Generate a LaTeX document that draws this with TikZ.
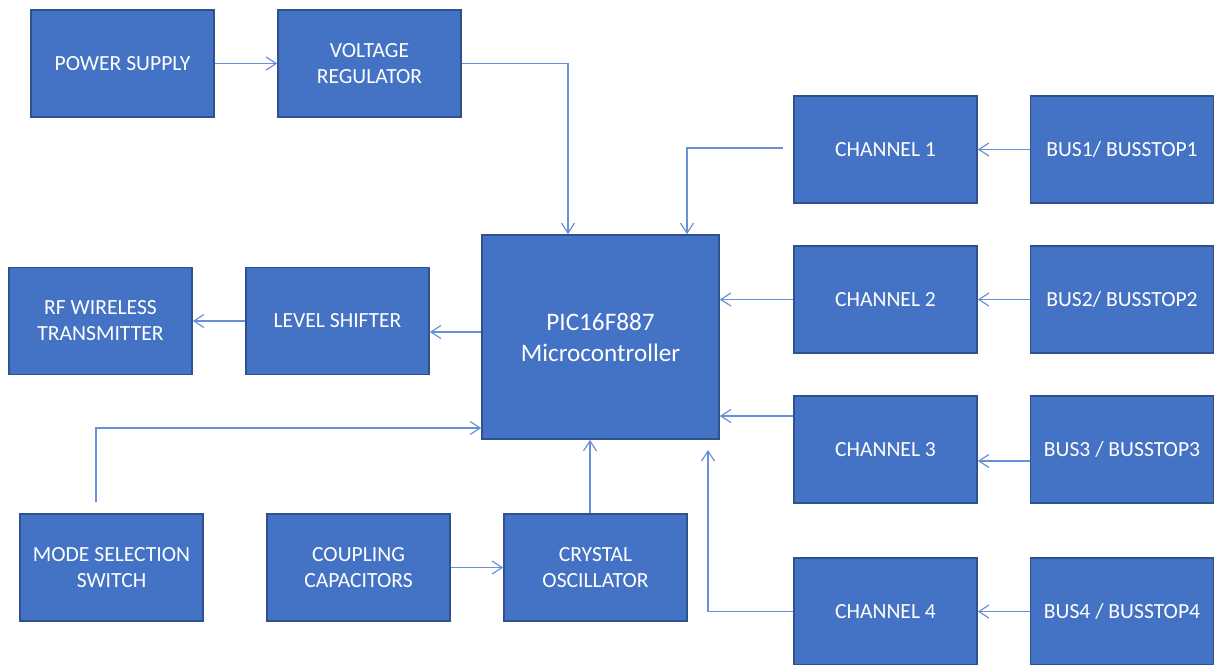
\documentclass[tikz,border=0pt]{standalone}
\usepackage{fontspec}
\setmainfont{Carlito}
\usepackage{xcolor}
\usetikzlibrary{arrows.meta}
\definecolor{boxblue}{HTML}{4472C4}
\definecolor{boxedge}{HTML}{2F528F}
\definecolor{wireblue}{HTML}{6890DA}
\tikzset{
	x=0.5pt, y=-0.5pt,
	>={Straight Barb[length=5pt,width=6.5pt]},
	block/.style = {
			draw            = boxedge,
			fill            = boxblue,
			text            = white,
			line width      = 0.8pt,
			minimum width   = 91.5pt,
			minimum height  = 53.5pt,
			align           = center,
			inner sep       = 1pt,
			font            = \fontsize{10.8}{13}\selectfont,
		},
	wire/.style = {draw=wireblue, line width=0.6pt, ->},
}

\begin{document}
\begin{tikzpicture}
		\useasboundingbox (0,0) rectangle (1214,664);

		\node[block] at (122.5,63.5) (power) {POWER SUPPLY};
		\node[block] at (369.5,63.5) (regulator) {VOLTAGE\\REGULATOR};

		\node[block, minimum width=118.5pt, minimum height=102pt, font=\fontsize{12.6}{15.5}\selectfont] at (600.5,337) (pic) {PIC16F887\\Microcontroller};

		\node[block] at (100.5,321) (rf) {RF WIRELESS\\TRANSMITTER};
		\node[block] at (337.5,321) (shifter) {LEVEL SHIFTER};

		\node[block] at (111.5,567.5) (mode) {MODE SELECTION\\SWITCH};
		\node[block] at (358.5,567.5) (coupling) {COUPLING\\CAPACITORS};
		\node[block] at (595.5,567.5) (crystal) {CRYSTAL\\OSCILLATOR};

		\node[block] at (885.5,149.5) (chone) {CHANNEL 1};
		\node[block] at (885.5,299.5) (chtwo) {CHANNEL 2};
		\node[block] at (885.5,449.5) (chthree) {CHANNEL 3};
		\node[block] at (885.5,611.5) (chfour) {CHANNEL 4};

		\node[block] at (1122,149.5) (busone) {BUS1/ BUSSTOP1};
		\node[block] at (1122,299.5) (bustwo) {BUS2/ BUSSTOP2};
		\node[block] at (1122,449.5) (busthree) {BUS3 / BUSSTOP3};
		\node[block] at (1122,611.5) (busfour) {BUS4 / BUSSTOP4};

		\coordinate (chonestart) at (783,148);
		\coordinate (modestart) at (96,502);
		\coordinate (chfourend) at (708,450);

		\draw[wire] (power) -- (regulator);
		\draw[wire] (regulator.east) -| (pic.north -| 568,0);
		\draw[wire] (chonestart) -| (pic.north -| 687,0);
		\draw[wire] (chtwo.west) -- (chtwo.west -| pic.east);
		\draw[wire] (chthree.west |- 0,416) -- (pic.east |- 0,416);
		\draw[wire] (chfour.west) -| (chfourend);

		\draw[wire] (busone) -- (chone);
		\draw[wire] (bustwo) -- (chtwo);
		\draw[wire] (busthree.west |- 0,461) -- (chthree.east |- 0,461);
		\draw[wire] (busfour) -- (chfour);

		\draw[wire] (pic.west |- 0,332) -- (shifter.east |- 0,332);
		\draw[wire] (shifter) -- (rf);
		\draw[wire] (modestart) |- (pic.west |- 0,428);
		\draw[wire] (coupling) -- (crystal);
		\draw[wire] (crystal.north -| 590,0) -- (pic.south -| 590,0);
	\end{tikzpicture}
\end{document}
